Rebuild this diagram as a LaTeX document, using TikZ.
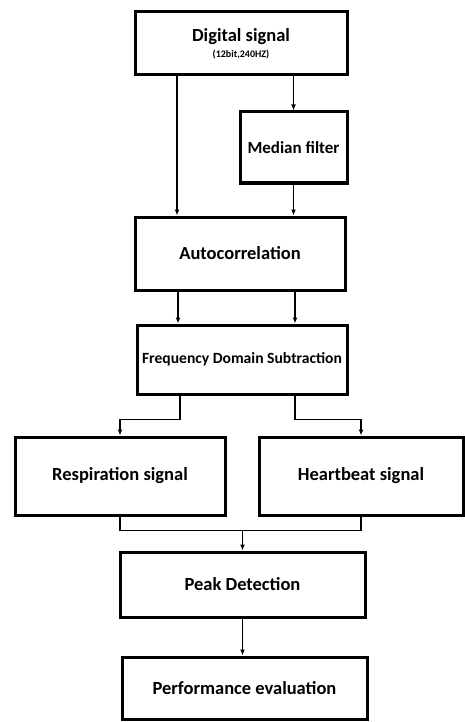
\documentclass[tikz,border=0pt]{standalone}
\usepackage{fontspec}
\setmainfont{Carlito}
\usepackage{tikz}
\usetikzlibrary{arrows.meta,calc}
\tikzstyle{block} = [draw,line width=3pt,shape=rectangle,inner sep=1pt,font=\bfseries\fontsize{18.5}{20}\selectfont,align=center]
\tikzstyle{arrow} = [line width=1.8pt,-{Latex[length=6pt,width=5pt]}]
\tikzstyle{line} = [line width=1.8pt]

\begin{document}
\begin{tikzpicture}[x=1pt,y=-1pt]
\useasboundingbox (0,0) rectangle (465,722);
\node[block,minimum width=212pt,minimum height=63pt] (dig)   at (241,43.5)  {Digital signal\\[-4pt]{\fontsize{10}{11}\selectfont (12bit,240HZ)}};
\node[block,minimum width=107pt,minimum height=71pt,font=\bfseries\fontsize{17}{19}\selectfont] (med) at (293.5,147.5) {Median filter};
\node[block,minimum width=210pt,minimum height=73pt] (auto)  at (240,253.5) {Autocorrelation};
\node[block,minimum width=210pt,minimum height=69pt,font=\bfseries\fontsize{15.6}{17}\selectfont] (fds) at (242,359.5) {Frequency Domain Subtraction};
\node[block,minimum width=210pt,minimum height=78pt] (resp)  at (120,476)   {Respiration signal};
\node[block,minimum width=204pt,minimum height=78pt] (heart) at (361,476)   {Heartbeat signal};
\node[block,minimum width=245pt,minimum height=65pt] (peak)  at (242.5,584.5) {Peak Detection};
\node[block,minimum width=245pt,minimum height=62pt] (perf)  at (244.5,688) {Performance evaluation};

% signal paths
\draw[arrow] ([xshift=-64pt]dig.south) -- ([xshift=-64pt]dig.south |- auto.north);
\draw[arrow] (dig.south -| med.north) -- (med.north);
\draw[arrow] (med.south) -- (med.south |- auto.north);
\draw[arrow] ([xshift=-62pt]auto.south) -- ([xshift=-62pt]auto.south |- fds.north);
\draw[arrow] ([xshift=55pt]auto.south) -- ([xshift=55pt]auto.south |- fds.north);

% split into two bands
\draw[arrow] ([xshift=-62pt]fds.south) -- ++(0,24) -| (resp.north);
\draw[arrow] ([xshift=53pt]fds.south) -- ++(0,24) -| (heart.north);

% merge again
\draw[line] (resp.south) -- ++(0,14) coordinate (jl) -| (heart.south);
\draw[arrow] (jl -| peak.north) -- (peak.north);
\draw[arrow] (peak.south) -- (peak.south |- perf.north);
\end{tikzpicture}
\end{document}
